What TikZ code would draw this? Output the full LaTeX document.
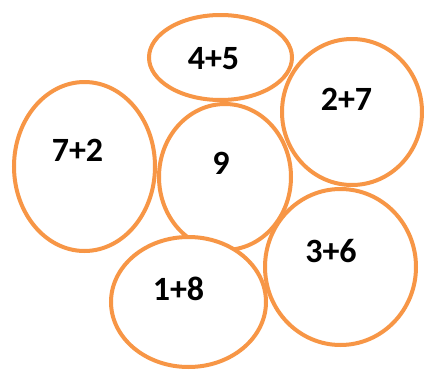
\documentclass[tikz,border=0pt]{standalone}
\usepackage{fontspec}
\setmainfont{Carlito}
\usepackage{xcolor}
\usepackage{tikz}
\usetikzlibrary{shapes.geometric}
\definecolor{bloborange}{HTML}{F79646}

\begin{document}
\begin{tikzpicture}[x=1pt,y=-1pt,
  blob/.style={ellipse,draw=bloborange,line width=4pt,fill=white,inner sep=0pt},
  sum/.style={font=\fontsize{34}{40}\selectfont\bfseries,inner sep=0pt}]
  \useasboundingbox (0,0) rectangle (424,370);
  \node[blob,minimum width=143,minimum height=85] (e45) at (220.5,57.5) {};
  \node[blob,minimum width=141,minimum height=169] (e72) at (84.5,166.5) {};
  \node[blob,minimum width=132,minimum height=146] (e9) at (225,177) {};
  \node[blob,minimum width=140,minimum height=146] (e27) at (352,112) {};
  \node[blob,minimum width=155,minimum height=130] (e18) at (188.5,302) {};
  \node[blob,minimum width=151,minimum height=156] (e36) at (340.5,267) {};
  \node[sum] (t45) at (213.5,59) {4+5};
  \node[sum] (t72) at (77.5,150.5) {7+2};
  \node[sum] (t9) at (221,163) {9};
  \node[sum] (t27) at (346.5,99) {2+7};
  \node[sum] (t18) at (178.5,288.5) {1+8};
  \node[sum] (t36) at (331,251.5) {3+6};
\end{tikzpicture}
\end{document}
